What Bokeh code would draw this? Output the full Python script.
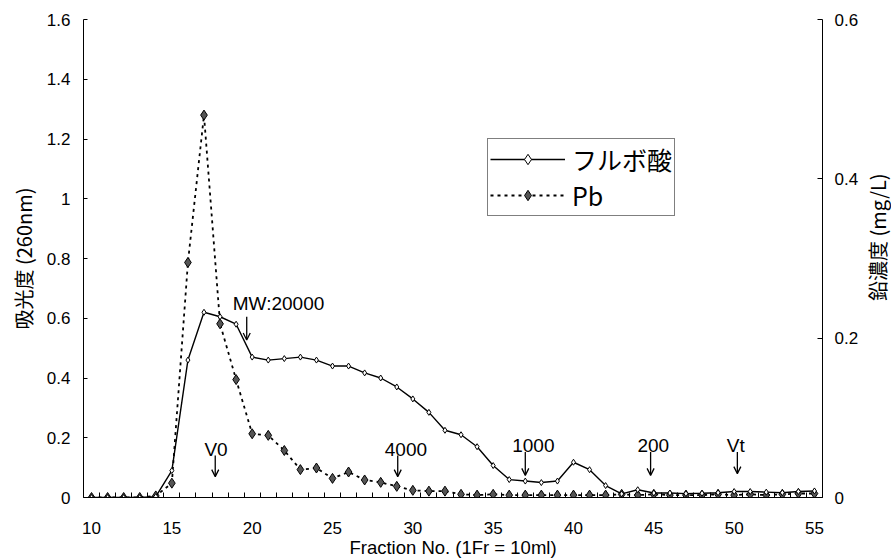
import math
from bokeh.plotting import figure
from bokeh.layouts import row
from bokeh.models import (Range1d, LinearAxis, FixedTicker, NumeralTickFormatter,
                          Legend, LegendItem, Label, Arrow, OpenHead)
from bokeh.embed import file_html
from bokeh.resources import INLINE

# ---- data -------------------------------------------------------------
fractions = list(range(10, 56))
fulvic = [0.0, 0.0, 0.0, 0.0, 0.003, 0.09, 0.46, 0.62, 0.605, 0.58,
          0.47, 0.46, 0.465, 0.47, 0.46, 0.44, 0.44, 0.417, 0.40, 0.37,
          0.33, 0.285, 0.225, 0.21, 0.17, 0.107, 0.06, 0.055, 0.05, 0.055,
          0.118, 0.093, 0.04, 0.012, 0.026, 0.015, 0.015, 0.013, 0.014, 0.016,
          0.02, 0.02, 0.018, 0.016, 0.02, 0.022]
pb = [0.0, 0.0, 0.0, 0.0, 0.002, 0.018, 0.295, 0.48, 0.218, 0.148,
      0.080, 0.078, 0.059, 0.035, 0.037, 0.024, 0.032, 0.022, 0.019, 0.014,
      0.009, 0.008, 0.008, 0.004, 0.003, 0.004, 0.003, 0.003, 0.003, 0.003,
      0.003, 0.003, 0.003, 0.004, 0.003, 0.004, 0.003, 0.003, 0.003, 0.004,
      0.003, 0.004, 0.003, 0.004, 0.005, 0.005]
x_tick_labels = [10, 15, 20, 25, 30, 35, 40, 45, 50, 55]
left_ticks = [0, 0.2, 0.4, 0.6, 0.8, 1.0, 1.2, 1.4, 1.6]
right_ticks = [0, 0.2, 0.4, 0.6]
series_names = ["フルボ酸", "Pb"]
x_title = "Fraction No. (1Fr = 10ml)"
left_title = "吸光度 (260nm)"
right_title = "鉛濃度 (mg/L)"

# annotation: text, text x, text y, arrow x, arrow top, arrow bottom
notes = [
    ("MW:20000", 21.64, 0.651, 19.66, 0.605, 0.527),
    ("V0", 17.75, 0.161, 17.7, 0.141, 0.07),
    ("4000", 29.57, 0.161, 29.06, 0.141, 0.07),
    ("1000", 37.5, 0.173, 37.0, 0.152, 0.074),
    ("200", 44.97, 0.173, 44.8, 0.152, 0.074),
    ("Vt", 50.1, 0.173, 50.2, 0.152, 0.08),
]

# ---- main figure ------------------------------------------------------
p = figure(width=861, height=560, output_backend="svg", toolbar_location=None,
           x_range=Range1d(9.5, 55.5), y_range=Range1d(0, 1.6),
           min_border_left=83, min_border_right=38, min_border_top=19,
           min_border_bottom=63, outline_line_color=None,
           background_fill_color="white", border_fill_color="white")
p.extra_y_ranges = {"pb": Range1d(0, 0.6)}
p.xgrid.visible = False
p.ygrid.visible = False

tick_font = "Liberation Sans"
jp_font = "Noto Sans CJK JP"

# x axis
xa = p.xaxis[0]
xa.ticker = FixedTicker(ticks=x_tick_labels,
                        minor_ticks=[f - 0.5 for f in fractions] + [fractions[-1] + 0.5])
xa.major_tick_in = 0
xa.major_tick_out = 0
xa.minor_tick_in = 5
xa.minor_tick_out = 0
xa.minor_tick_line_color = "black"
xa.axis_line_color = "black"
xa.major_label_standoff = 24
xa.major_label_text_font = tick_font
xa.major_label_text_font_size = "17px"
xa.major_label_text_color = "black"
xa.axis_label = x_title
xa.axis_label_text_font = tick_font
xa.axis_label_text_font_size = "18.5px"
xa.axis_label_text_font_style = "normal"
xa.axis_label_text_color = "black"
xa.axis_label_standoff = 0

# left y axis
ya = p.yaxis[0]
ya.ticker = FixedTicker(ticks=left_ticks)
ya.formatter = NumeralTickFormatter(format="0.[0]")
ya.major_tick_in = 4
ya.major_tick_out = 0
ya.minor_tick_line_color = None
ya.axis_line_color = "black"
ya.major_label_standoff = 13
ya.major_label_text_font = tick_font
ya.major_label_text_font_size = "17px"
ya.major_label_text_color = "black"
ya.axis_label = left_title
ya.axis_label_text_font = jp_font
ya.axis_label_text_font_size = "20px"
ya.axis_label_text_font_style = "normal"
ya.axis_label_text_color = "black"
ya.axis_label_standoff = 6

# right y axis
ra = LinearAxis(y_range_name="pb", ticker=FixedTicker(ticks=right_ticks),
                formatter=NumeralTickFormatter(format="0.[0]"))
ra.major_tick_in = 5
ra.major_tick_out = 0
ra.minor_tick_line_color = None
ra.axis_line_color = "black"
ra.major_label_standoff = 12
ra.major_label_text_font = tick_font
ra.major_label_text_font_size = "17px"
ra.major_label_text_color = "black"
p.add_layout(ra, "right")

# ---- series -----------------------------------------------------------
l_pb = p.line(fractions, pb, y_range_name="pb", line_color="black",
              line_width=1.8, line_dash="3 4")
s_pb = p.scatter(fractions, pb, y_range_name="pb", marker="diamond", size=10,
                 fill_color="#555555", line_color="black", line_width=1)
l_fa = p.line(fractions, fulvic, line_color="black", line_width=1.4)
s_fa = p.scatter(fractions, fulvic, marker="diamond", size=6,
                 fill_color="white", line_color="black", line_width=1)

# ---- annotations ------------------------------------------------------
for text, tx, ty, ax, atop, abot in notes:
    p.add_layout(Label(x=tx, y=ty, text=text, text_align="center",
                       text_baseline="middle", text_font=tick_font,
                       text_font_size="19px", text_color="black"))
    p.add_layout(Arrow(x_start=ax, y_start=atop, x_end=ax, y_end=abot,
                       line_color="black", line_width=1.3,
                       end=OpenHead(size=7, line_color="black", line_width=1.3)))

# ---- legend -----------------------------------------------------------
legend = Legend(items=[LegendItem(label=series_names[0], renderers=[l_fa, s_fa]),
                       LegendItem(label=series_names[1], renderers=[l_pb, s_pb])],
                location=(404, 281), orientation="vertical",
                label_text_font=jp_font, label_text_font_size="25px",
                label_text_color="black", glyph_width=75, glyph_height=26,
                label_height=26, label_standoff=7, padding=2, spacing=0, margin=0,
                border_line_color="black", border_line_width=1,
                background_fill_color="white", background_fill_alpha=1)
p.add_layout(legend)

# ---- narrow strip holding the right-hand axis title ---------------------
strip = figure(width=30, height=560, output_backend="svg", toolbar_location=None,
               x_range=Range1d(0, 30), y_range=Range1d(0, 560),
               min_border=0, outline_line_color=None,
               x_axis_location=None, y_axis_location=None,
               background_fill_color="white", border_fill_color="white")
strip.xgrid.visible = False
strip.ygrid.visible = False
strip.add_layout(Label(x=16, y=305, text=right_title, angle=math.pi / 2,
                       text_align="center", text_baseline="middle",
                       text_font=jp_font, text_font_size="20px",
                       text_color="black"))

layout = row(p, strip, spacing=0)
open("out.html", "w").write(file_html(layout, INLINE))
